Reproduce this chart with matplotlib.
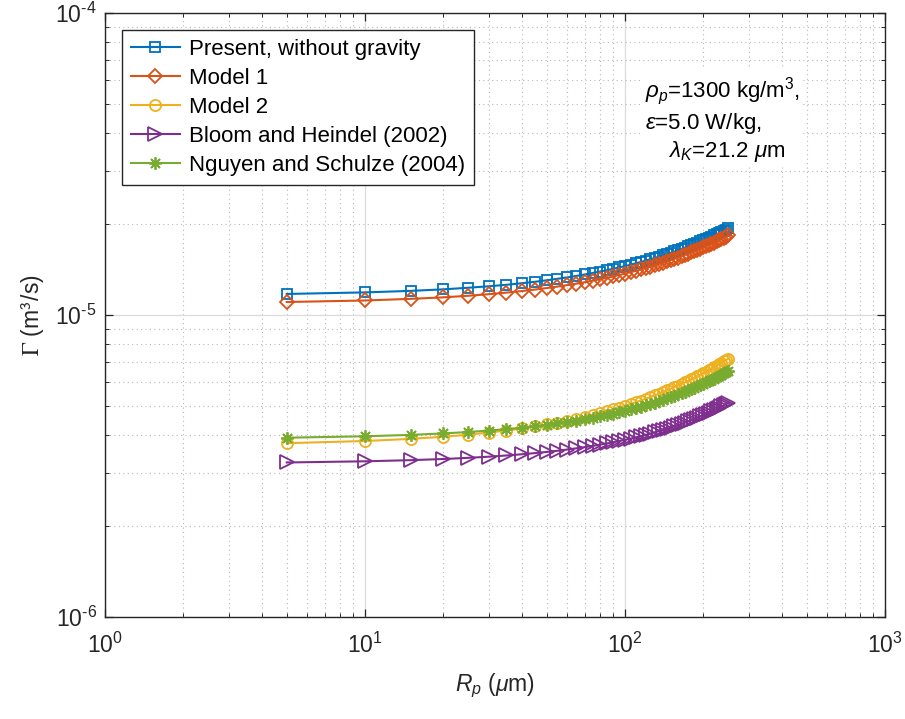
import numpy as np
import matplotlib
matplotlib.use("Agg")
import matplotlib.pyplot as plt
from matplotlib.ticker import LogLocator, NullFormatter, FuncFormatter

plt.rcParams['font.family'] = ['Liberation Sans', 'DejaVu Sans']
plt.rcParams['mathtext.fontset'] = 'custom'
plt.rcParams['mathtext.rm'] = 'Liberation Sans'
plt.rcParams['mathtext.it'] = 'Liberation Sans:italic'
plt.rcParams['mathtext.bf'] = 'Liberation Sans:bold'

# particle radius (um)
R_p = [5, 10, 15, 20, 25, 30, 35, 40, 45, 50,
       55, 60, 65, 70, 75, 80, 85, 90, 95, 100,
       105, 110, 115, 120, 125, 130, 135, 140, 145, 150,
       155, 160, 165, 170, 175, 180, 185, 190, 195, 200,
       205, 210, 215, 220, 225, 230, 235, 240, 245, 250]

# collision kernel, in 1e-5 m^3/s
present = [1.174, 1.188, 1.202, 1.216, 1.231, 1.245, 1.259, 1.274, 1.288, 1.303,
           1.318, 1.332, 1.347, 1.362, 1.377, 1.392, 1.407, 1.422, 1.437, 1.452,
           1.467, 1.483, 1.498, 1.513, 1.529, 1.544, 1.560, 1.576, 1.591, 1.607,
           1.623, 1.639, 1.655, 1.671, 1.687, 1.703, 1.719, 1.735, 1.752, 1.768,
           1.784, 1.801, 1.817, 1.834, 1.851, 1.867, 1.884, 1.901, 1.918, 1.935]
model1 = [1.104, 1.117, 1.131, 1.144, 1.158, 1.172, 1.186, 1.200, 1.214, 1.228,
          1.242, 1.256, 1.270, 1.284, 1.299, 1.313, 1.327, 1.342, 1.356, 1.371,
          1.386, 1.400, 1.415, 1.430, 1.445, 1.460, 1.475, 1.490, 1.505, 1.520,
          1.535, 1.550, 1.565, 1.581, 1.596, 1.612, 1.627, 1.643, 1.658, 1.674,
          1.690, 1.706, 1.721, 1.737, 1.753, 1.769, 1.785, 1.801, 1.818, 1.834]

# collision kernel, in 1e-6 m^3/s
model2 = [3.763, 3.826, 3.889, 3.952, 4.016, 4.080, 4.144, 4.209, 4.274, 4.339,
          4.404, 4.470, 4.536, 4.602, 4.668, 4.735, 4.802, 4.870, 4.937, 5.005,
          5.073, 5.142, 5.210, 5.279, 5.348, 5.418, 5.488, 5.558, 5.628, 5.699,
          5.770, 5.841, 5.912, 5.984, 6.056, 6.128, 6.201, 6.274, 6.347, 6.420,
          6.494, 6.568, 6.642, 6.716, 6.791, 6.866, 6.941, 7.017, 7.093, 7.169]
bloom = [3.248, 3.277, 3.306, 3.335, 3.365, 3.395, 3.426, 3.457, 3.488, 3.520,
         3.552, 3.585, 3.618, 3.651, 3.685, 3.719, 3.754, 3.789, 3.824, 3.860,
         3.896, 3.933, 3.970, 4.007, 4.045, 4.083, 4.122, 4.161, 4.200, 4.240,
         4.280, 4.321, 4.362, 4.403, 4.445, 4.487, 4.530, 4.573, 4.616, 4.660,
         4.704, 4.749, 4.794, 4.839, 4.885, 4.931, 4.978, 5.025, 5.072, 5.120]
nguyen = [3.923, 3.966, 4.009, 4.053, 4.098, 4.143, 4.188, 4.234, 4.280, 4.326,
          4.373, 4.421, 4.468, 4.517, 4.565, 4.614, 4.664, 4.714, 4.764, 4.815,
          4.866, 4.918, 4.970, 5.022, 5.075, 5.129, 5.182, 5.237, 5.291, 5.346,
          5.402, 5.458, 5.514, 5.571, 5.628, 5.685, 5.743, 5.802, 5.861, 5.920,
          5.980, 6.040, 6.100, 6.161, 6.223, 6.285, 6.347, 6.410, 6.473, 6.536]

labels = ['Present, without gravity', 'Model 1', 'Model 2',
          'Bloom and Heindel (2002)', 'Nguyen and Schulze (2004)']

R = np.array(R_p)
series = [np.array(present) * 1e-5, np.array(model1) * 1e-5,
          np.array(model2) * 1e-6, np.array(bloom) * 1e-6,
          np.array(nguyen) * 1e-6]
colors = ['#0072BD', '#D95319', '#EDB120', '#7E2F8E', '#77AC30']
markers = ['s', 'D', 'o', '>', (8, 2, 0)]
msizes = [7.5, 7, 8, 9.5, 9]

fig = plt.figure(figsize=(9.05, 7.19), dpi=100)
ax = fig.add_axes([0.116, 0.1419, 0.8619, 0.840])

for y, c, m, ms, lab in zip(series, colors, markers, msizes, labels):
    ax.loglog(R, y, color=c, marker=m, markersize=ms, markerfacecolor='none',
              markeredgewidth=1.3, linewidth=1.5, label=lab)

ax.set_xlim(1, 1000)
ax.set_ylim(1e-6, 1e-4)
ax.xaxis.set_minor_locator(LogLocator(base=10, subs=np.arange(2, 10)))
ax.yaxis.set_minor_locator(LogLocator(base=10, subs=np.arange(2, 10)))
ax.xaxis.set_minor_formatter(NullFormatter())
ax.yaxis.set_minor_formatter(NullFormatter())


def pow10(v, pos):
    e = int(round(np.log10(v)))
    if e < 0:
        return r'$10^{\text{-}%d}$' % (-e)
    return r'$10^{%d}$' % e


ax.xaxis.set_major_formatter(FuncFormatter(pow10))
ax.yaxis.set_major_formatter(FuncFormatter(pow10))

ax.grid(True, which='major', color='#dcdcdc', linestyle='-', linewidth=0.9)
ax.grid(True, which='minor', color='#b8b8b8', linestyle=(0, (1, 3)), linewidth=0.8)
ax.set_axisbelow(True)

ax.tick_params(which='both', direction='in', top=True, right=True,
               labelsize=16.5, colors='#262626', labelcolor='#262626')
ax.tick_params(which='major', length=6, width=0.9)
ax.tick_params(which='minor', length=3, width=0.7)
ax.tick_params(axis='x', which='major', pad=11)
ax.tick_params(axis='y', which='major', pad=6)
for s in ax.spines.values():
    s.set_linewidth(1.0)
    s.set_color('#262626')

ax.set_xlabel(r'$R_p$ ($\mu$m)', fontsize=16.5, color='#262626', labelpad=10)
ax.set_ylabel(r'$\Gamma$ (m$^{\mathsf{3}}$/s)', fontsize=16.5, color='#262626',
              math_fontfamily='stix', labelpad=6)

leg = ax.legend(loc='upper left', bbox_to_anchor=(0.0218, 0.9719), fontsize=16,
                frameon=True, fancybox=False, borderpad=0.4, labelspacing=0.36,
                handlelength=2.2, handletextpad=0.4, borderaxespad=0.0)
leg.get_frame().set_edgecolor('#262626')
leg.get_frame().set_linewidth(1.0)
leg.get_frame().set_facecolor('white')
leg.get_frame().set_alpha(1.0)

ax.text(0.692, 0.897,
        '$\\rho_p$=1300 kg/m$^3$,\n$\\epsilon$=5.0 W/kg,\n    $\\lambda_K$=21.2 $\\mu$m',
        transform=ax.transAxes, fontsize=16, va='top', ha='left',
        linespacing=1.2,
        bbox=dict(facecolor='white', edgecolor='none', pad=2))

fig.savefig('out.png', dpi=100)
